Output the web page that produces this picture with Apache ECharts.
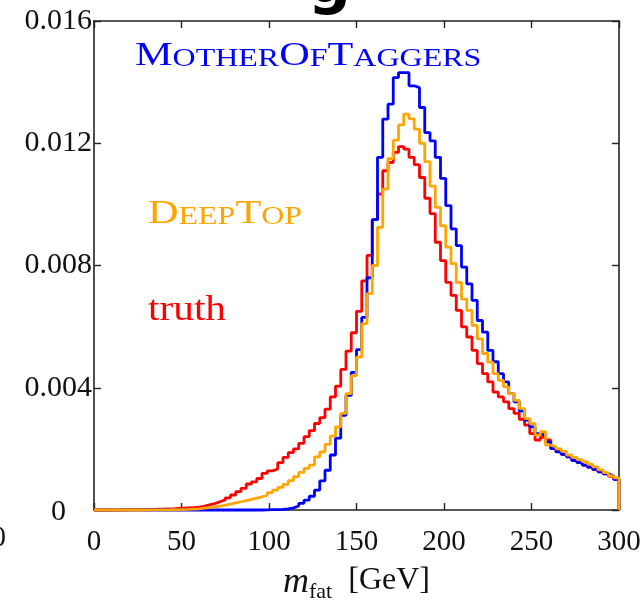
<!DOCTYPE html>
<html>
<head>
<meta charset="utf-8">
<script src="https://cdn.jsdelivr.net/npm/echarts@6/dist/echarts.min.js"></script>
<style>
html,body{margin:0;padding:0;background:#fff;}
#chart{width:643px;height:600px;}
</style>
</head>
<body>
<div id="chart"></div>
<script>
// Histogram: 100 bins of 3 GeV from 0 to 300
const binWidth = 3;
const xTicks = [0, 50, 100, 150, 200, 250, 300];
const yTickLabels = ['0', '0.004', '0.008', '0.012', '0.016'];

const motherOfTaggers = [
  0,0,0,0,0,0,0,0,0,0,
  0,0,0,0,0,0,0,0,0,0,
  0,0,0,0,0,0,0,0,0,0,
  0,
  0,0.000005,0.00001,0.000015,0.00002,0.00004,0.00007,0.00013,0.00022,0.00032,
  0.00045,0.00065,0.00095,0.0013,0.0018,0.00235,0.0031,0.00375,0.0045,0.00525,
  0.0063,0.0076,0.0095,0.01154,0.01279,0.01328,0.01415,0.01431,0.01431,0.01388,
  0.01382,0.01317,0.01235,0.01208,0.01154,0.01085,0.00996,0.0092,0.00865,0.00795,
  0.0074,0.00686,0.0062,0.00582,0.00522,0.00485,0.00446,0.00419,0.00381,0.00354,
  0.00324,0.00294,0.00272,0.0025,0.00245,0.00223,0.00201,0.0019,0.00182,0.00174,
  0.00162,0.00155,0.00147,0.0014,0.00133,0.00125,0.00118,0.00112,0.001
];

const deepTop = [
  0,0,0,0,0,0,0,0,0,0,
  0.000003,0.000003,0.000005,0.000005,0.000008,
  0.00001,0.000015,0.00002,0.00003,0.00004,0.00006,0.00008,0.0001,0.00013,0.00016,
  0.00019,0.00023,0.00027,0.00031,0.00035,0.00039,0.00043,0.00049,0.00057,0.00065,
  0.00074,0.00084,0.00096,0.00109,0.00123,0.00136,0.00147,0.00174,0.0019,0.00215,
  0.00242,0.00272,0.00316,0.00381,0.0044,0.005,0.0061,0.00708,0.008,0.00925,
  0.0105,0.0115,0.0121,0.0126,0.01295,0.0128,0.01246,0.012,0.0114,0.0106,
  0.0099,0.0093,0.0086,0.00806,0.00745,0.0069,0.00653,0.00604,0.0056,0.00512,
  0.00484,0.00446,0.00424,0.00403,0.00381,0.00359,0.00332,0.00299,0.00283,0.00245,
  0.00256,0.00212,0.00207,0.002,0.00192,0.0018,0.00172,0.00165,0.00158,0.0015,
  0.00141,0.00131,0.00122,0.00112,0.00105
];

const truth = [
  0,0,0,0,0.000005,0.000008,0.00001,0.000012,0.000015,0.00002,
  0.000022,0.000025,0.00003,0.000035,0.00004,0.00005,0.00006,0.00007,0.00008,
  0.00009,0.00012,0.00017,0.00021,0.00027,0.00033,0.0004,0.00049,0.0006,0.00071,
  0.00085,0.00092,0.00103,0.0012,0.00128,0.00134,0.00155,0.00172,0.00188,0.002,
  0.00218,0.0024,0.0026,0.00283,0.00302,0.0033,0.0037,0.00405,0.0046,0.0052,
  0.0058,0.0065,0.0075,0.00833,0.0095,0.01034,0.0111,0.01137,0.0117,0.01189,
  0.01181,0.01154,0.0113,0.01088,0.0102,0.0097,0.00876,0.00816,0.00745,0.00702,
  0.00653,0.00599,0.00566,0.00522,0.00479,0.00446,0.00419,0.00386,0.0037,0.00354,
  0.00332,0.00316,0.00297,0.00278,0.0025,0.00229,0.00238,0.00229,0.00201,0.00192,
  0.00182,0.00174,0.00164,0.00156,0.00147,0.0014,0.00132,0.00125,0.00118,0.0011,
  0.001
];

function histPoints(values) {
  const pts = [];
  for (let i = 0; i < values.length; i++) pts.push([i * binWidth, values[i]]);
  const xEnd = values.length * binWidth;
  pts.push([xEnd, values[values.length - 1]]);
  pts.push([xEnd, 0]);
  return pts;
}

const serif = "'Liberation Serif', 'DejaVu Serif', serif";
const chart = echarts.init(document.getElementById('chart'), null, {renderer: 'canvas'});

const axisLineStyle = {color: '#222', width: 1.6};
const tickStyle = {show: true, inside: true, length: 7, lineStyle: {color: '#222', width: 1.4}};

function seriesOf(name, values, color, z) {
  return {
    name: name, type: 'line', step: 'end', symbol: 'none', z: z,
    data: histPoints(values), clip: false,
    lineStyle: {color: color, width: 2.8}, itemStyle: {color: color},
    emphasis: {disabled: true}, animation: false
  };
}

function smallCaps(parts, color) {
  let t = '';
  parts.forEach(p => { t += '{b|' + p[0] + '}' + (p[1] ? '{s|' + p[1] + '}' : ''); });
  return {
    text: t,
    rich: {
      b: {fontSize: 33, fontFamily: serif, fill: color, lineHeight: 33, verticalAlign: 'bottom'},
      s: {fontSize: 25, fontFamily: serif, fill: color, lineHeight: 25, verticalAlign: 'bottom', padding: [0, 0, 1, 0]}
    }
  };
}

chart.setOption({
  animation: false,
  backgroundColor: '#fff',
  grid: {left: 94, right: 24, top: 21, bottom: 90, containLabel: false, outerBoundsMode: 'none'},
  xAxis: [{
    type: 'value', min: 0, max: 300, interval: 50, position: 'bottom',
    axisLine: {show: true, lineStyle: axisLineStyle, onZero: false},
    axisTick: tickStyle, splitLine: {show: false},
    axisLabel: {fontSize: 29, fontFamily: serif, color: '#111', margin: 18,
      formatter: v => String(v)},
    name: '{i|m}{s|fat}{n|  [GeV]}', nameLocation: 'middle', nameGap: 55,
    nameTextStyle: {
      rich: {
        i: {fontSize: 36, fontFamily: serif, fontStyle: 'italic', color: '#111', lineHeight: 36, verticalAlign: 'top'},
        s: {fontSize: 22, fontFamily: serif, color: '#111', lineHeight: 22, verticalAlign: 'top', padding: [16, 0, 0, 0]},
        n: {fontSize: 32, fontFamily: serif, color: '#111', lineHeight: 36, verticalAlign: 'top'}
      }
    }
  }, {
    type: 'value', min: 0, max: 300, interval: 50, position: 'top',
    axisLine: {show: true, lineStyle: axisLineStyle, onZero: false},
    axisTick: tickStyle, axisLabel: {show: false}, splitLine: {show: false}
  }],
  yAxis: [{
    type: 'value', min: 0, max: 0.016, interval: 0.004, position: 'left',
    axisLine: {show: true, lineStyle: axisLineStyle, onZero: false},
    axisTick: tickStyle, splitLine: {show: false},
    axisLabel: {fontSize: 30, fontFamily: serif, color: '#111', margin: 2,
      formatter: function (v) {
        const idx = Math.round(v / 0.004);
        const t = yTickLabels[idx];
        return idx === 0 ? '{z|' + t + '}' : t;
      },
      rich: {z: {fontSize: 30, fontFamily: serif, color: '#111', padding: [4, 26, 0, 0]}}
    }
  }, {
    type: 'value', min: 0, max: 0.016, interval: 0.004, position: 'right',
    axisLine: {show: true, lineStyle: axisLineStyle, onZero: false},
    axisTick: tickStyle, axisLabel: {show: false}, splitLine: {show: false}
  }],
  series: [
    seriesOf('truth', truth, '#ff0000', 2),
    seriesOf('MotherOfTaggers', motherOfTaggers, '#0000ff', 3),
    seriesOf('DeepTop', deepTop, '#ffa500', 4)
  ],
  graphic: [
    {type: 'text', x: 135, y: 40, scaleX: 1.28, z: 10,
      style: smallCaps([['M', 'OTHER'], ['O', 'F'], ['T', 'AGGERS']], '#0000ff')},
    {type: 'text', x: 148, y: 198, scaleX: 1.28, z: 10,
      style: smallCaps([['D', 'EEP'], ['T', 'OP']], '#ffa500')},
    {type: 'text', x: 148, y: 293, scaleX: 1.18, z: 10,
      style: {text: 'truth', font: "35px 'Liberation Serif', serif", fill: '#ff0000'}},
    {type: 'text', left: 308, top: -44, z: 10,
      style: {text: 'g', font: "bold 60px 'DejaVu Sans', sans-serif", fill: '#000'}},
    {type: 'text', right: 637, top: 524, z: 10,
      style: {text: '300', font: "29px 'Liberation Serif', serif", fill: '#111'}}
  ]
});
</script>
</body>
</html>
